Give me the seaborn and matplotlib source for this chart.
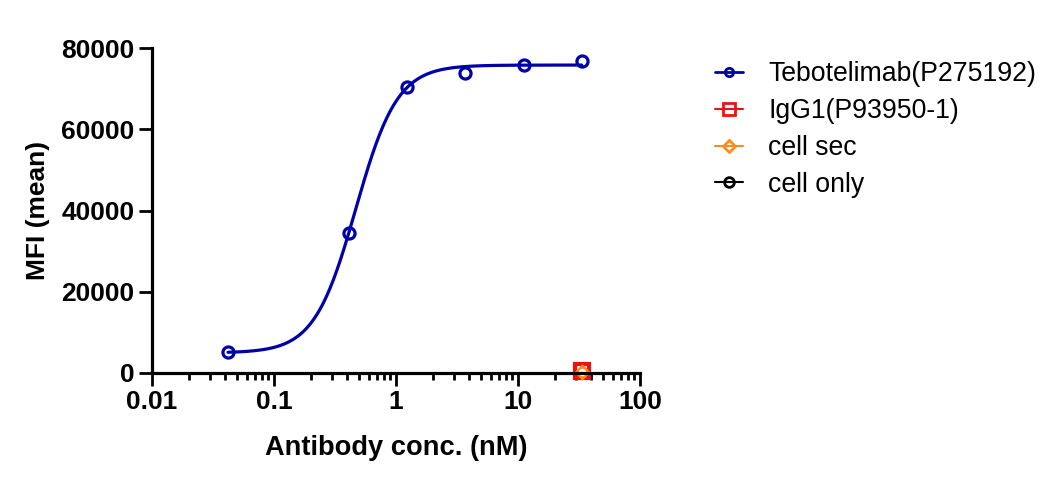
import numpy as np
import pandas as pd
import matplotlib
matplotlib.use("Agg")
import matplotlib.pyplot as plt
import seaborn as sns
from matplotlib.lines import Line2D
from matplotlib.ticker import FixedLocator, FixedFormatter, NullFormatter

# ---- data ----
conc = [0.042, 0.41, 1.23, 3.7, 11.1, 33.3]
mfi_tebo = [5100, 34500, 70500, 73800, 75800, 76800]

ctrl_conc = [33.3]
mfi_igg1 = [600]
mfi_cellsec = [350]
mfi_cellonly = [250]

# fitted 4PL curve parameters (estimated from the drawn fit)
FIT_BOTTOM = 4950
FIT_TOP = 75800
FIT_EC50 = 0.468
FIT_HILL = 2.55

labels = ["Tebotelimab(P275192)", "IgG1(P93950-1)", "cell sec", "cell only"]
colors = ["#0000AA", "#EE1111", "#FF8C1A", "#000000"]

x_ticks = [0.01, 0.1, 1, 10, 100]
x_ticklabels = ["0.01", "0.1", "1", "10", "100"]
y_ticks = [0, 20000, 40000, 60000, 80000]

# ---- style ----
sns.set_style("ticks")
plt.rcParams["font.family"] = ["Liberation Sans", "DejaVu Sans"]
for k in ["text.color", "axes.labelcolor", "xtick.color", "ytick.color"]:
    plt.rcParams[k] = "black"

FS = 19

fig = plt.figure(figsize=(10.57, 4.8), dpi=100)
ax = fig.add_axes([152 / 1057, 107 / 480, 488 / 1057, 325 / 480])

# fitted curve
xs = np.logspace(np.log10(conc[0]), np.log10(conc[-1]), 300)
fit = pd.DataFrame({
    "x": xs,
    "y": FIT_BOTTOM + (FIT_TOP - FIT_BOTTOM) / (1 + (FIT_EC50 / xs) ** FIT_HILL),
})
sns.lineplot(data=fit, x="x", y="y", ax=ax, color=colors[0], lw=2.3)

# points
pts = pd.DataFrame({"x": conc, "y": mfi_tebo})
ax.plot(pts["x"], pts["y"], "o", ms=8, mfc="none", mec=colors[0], mew=2.3)
ax.plot(ctrl_conc, mfi_igg1, "s", ms=10, mfc="none", mec=colors[1], mew=3.0, clip_on=False)
ax.plot(ctrl_conc, mfi_cellsec, "D", ms=6, mfc="none", mec=colors[2], mew=2.3, clip_on=False)
ax.plot(ctrl_conc, mfi_cellonly, "o", ms=4, mfc="none", mec="white", mew=1.3, clip_on=False)

ax.set_xscale("log")
ax.set_xlim(0.01, 100)
ax.set_ylim(0, 80000)
ax.xaxis.set_major_locator(FixedLocator(x_ticks))
ax.xaxis.set_major_formatter(FixedFormatter(x_ticklabels))
minors = [m * d for d in [0.01, 0.1, 1, 10] for m in range(2, 10)]
ax.xaxis.set_minor_locator(FixedLocator(minors))
ax.xaxis.set_minor_formatter(NullFormatter())
ax.set_yticks(y_ticks)
ax.set_yticklabels([str(v) for v in y_ticks])

for s in ["top", "right"]:
    ax.spines[s].set_visible(False)
for s in ["left", "bottom"]:
    ax.spines[s].set_linewidth(2.3)
    ax.spines[s].set_color("black")

ax.tick_params(axis="both", which="major", length=9.5, width=2.0, color="black",
               labelsize=FS, pad=3)
ax.tick_params(axis="x", which="minor", length=5, width=2.0, color="black")
for t in ax.get_xticklabels() + ax.get_yticklabels():
    t.set_fontweight("bold")

ax.set_xlabel("Antibody conc. (nM)", fontsize=19.6, fontweight="bold", labelpad=15)
ax.set_ylabel("MFI (mean)", fontsize=FS, fontweight="bold", labelpad=8)

handles = [
    Line2D([0], [0], color=colors[0], lw=2, marker="o", ms=6, mfc="none", mew=2),
    Line2D([0], [0], color=colors[1], lw=1.5, marker="s", ms=8, mfc="none", mew=2),
    Line2D([0], [0], color=colors[2], lw=1.5, marker="D", ms=6, mfc="none", mew=2),
    Line2D([0], [0], color=colors[3], lw=1.5, marker="o", ms=7, mfc="none", mew=2),
]
fig.legend(handles, labels, loc="upper left", bbox_to_anchor=(715 / 1057, (480 - 61) / 480),
           frameon=False, fontsize=19.2, handlelength=1.05, handletextpad=0.95,
           labelspacing=0.41, borderpad=0, borderaxespad=0)

fig.savefig("out.png", dpi=100)
